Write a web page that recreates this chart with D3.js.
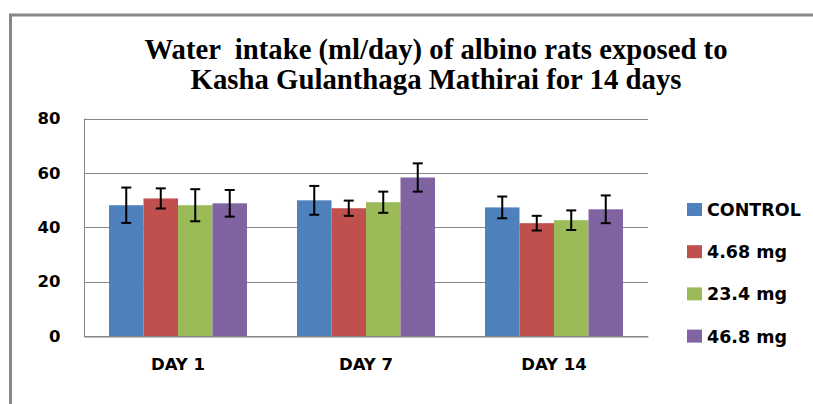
<!DOCTYPE html>
<html>
<head>
<meta charset="utf-8">
<script src="https://cdn.jsdelivr.net/npm/d3@7"></script>
<style>
  body { margin: 0; background: #fff; }
  svg { display: block; }
</style>
</head>
<body>
<div id="chart"></div>
<script>
// data
const days = ["DAY 1", "DAY 7", "DAY 14"];
const groupNames = ["CONTROL", "4.68 mg", "23.4 mg", "46.8 mg"];
const controlMean = [48.1, 49.9, 47.3];
const lowMean = [50.6, 47.0, 41.5];
const midMean = [48.1, 49.2, 42.6];
const highMean = [48.8, 58.3, 46.6];
const controlErr = [6.5, 5.3, 4.0];
const lowErr = [3.7, 2.8, 2.7];
const midErr = [5.9, 3.9, 3.6];
const highErr = [4.9, 5.2, 5.1];
const yTicks = [0, 20, 40, 60, 80];
const titleLines = ["Water  intake (ml/day) of albino rats exposed to",
                    "Kasha Gulanthaga Mathirai for 14 days"];

const colors = ["#4F81BD", "#C0504D", "#9BBB59", "#8064A2"];
const means = [controlMean, lowMean, midMean, highMean];
const errs = [controlErr, lowErr, midErr, highErr];

const width = 813, height = 404;
const plotLeft = 84, plotRight = 648, plotTop = 118.5, plotBottom = 336;
const labelFont = "'DejaVu Sans', sans-serif";

const svg = d3.select("#chart").append("svg")
    .attr("width", width)
    .attr("height", height);

// outer chart border (runs off the right and bottom edges)
svg.append("rect")
    .attr("x", 10.5).attr("y", 15)
    .attr("width", 900).attr("height", 500)
    .attr("fill", "none")
    .attr("stroke", "#888")
    .attr("stroke-width", 3);

// title
const titleY = [59, 89], titleLen = [583, 491];
svg.selectAll(".title")
    .data(titleLines)
    .enter()
    .append("text")
    .attr("class", "title")
    .attr("x", 436)
    .attr("y", (d, i) => titleY[i])
    .attr("text-anchor", "middle")
    .attr("textLength", (d, i) => titleLen[i])
    .attr("lengthAdjust", "spacingAndGlyphs")
    .style("font-family", "'Liberation Serif', 'Times New Roman', serif")
    .style("font-weight", "bold")
    .style("font-size", "29px")
    .style("white-space", "pre")
    .text(d => d);

// scales
const y = d3.scaleLinear().domain([0, 80]).range([plotBottom, plotTop]);
const x0 = d3.scaleBand().domain(days).range([plotLeft, plotRight]);
const x1 = d3.scaleBand().domain(groupNames).range([0, x0.bandwidth()])
    .paddingInner(0).paddingOuter(0.725);

// gridlines
svg.append("g")
    .selectAll("line")
    .data(yTicks)
    .enter()
    .append("line")
    .attr("x1", plotLeft).attr("x2", plotRight)
    .attr("y1", d => Math.round(y(d)) + 0.5)
    .attr("y2", d => Math.round(y(d)) + 0.5)
    .attr("stroke", "#868686")
    .attr("stroke-width", 1);

// y axis
const yAxis = svg.append("g")
    .attr("transform", `translate(${plotLeft + 0.5},0)`)
    .call(d3.axisLeft(y).tickValues(yTicks).tickSize(0).tickPadding(24));
yAxis.select(".domain")
    .attr("stroke", "#868686")
    .attr("d", `M0,${plotTop}V${plotBottom + 0.5}`);
yAxis.selectAll("text")
    .style("font-family", labelFont)
    .style("font-weight", "bold")
    .style("font-size", "16.5px")
    .attr("fill", "#000");

// x axis
const xAxis = svg.append("g")
    .attr("transform", `translate(0,${Math.round(plotBottom) + 0.5})`)
    .call(d3.axisBottom(x0).tickSize(0).tickPadding(22));
xAxis.select(".domain").attr("stroke", "#868686");
xAxis.selectAll("text")
    .style("font-family", labelFont)
    .style("font-weight", "bold")
    .style("font-size", "16.5px")
    .attr("fill", "#000");

// bars
const rows = [];
days.forEach((day, di) => {
    groupNames.forEach((g, gi) => {
        rows.push({day: day, group: g, gi: gi, value: means[gi][di], err: errs[gi][di]});
    });
});

svg.append("g")
    .selectAll("rect")
    .data(rows)
    .enter()
    .append("rect")
    .attr("x", d => x0(d.day) + x1(d.group))
    .attr("y", d => y(d.value))
    .attr("width", x1.bandwidth())
    .attr("height", d => plotBottom - y(d.value))
    .attr("fill", d => colors[d.gi]);

// error bars
const capHalf = 5;
const eb = svg.append("g")
    .selectAll("g")
    .data(rows)
    .enter()
    .append("g")
    .attr("stroke", "#000")
    .attr("stroke-width", 2);

eb.append("line")
    .attr("x1", d => x0(d.day) + x1(d.group) + x1.bandwidth() / 2)
    .attr("x2", d => x0(d.day) + x1(d.group) + x1.bandwidth() / 2)
    .attr("y1", d => y(d.value + d.err))
    .attr("y2", d => y(d.value - d.err));
eb.append("line")
    .attr("x1", d => x0(d.day) + x1(d.group) + x1.bandwidth() / 2 - capHalf)
    .attr("x2", d => x0(d.day) + x1(d.group) + x1.bandwidth() / 2 + capHalf)
    .attr("y1", d => y(d.value + d.err))
    .attr("y2", d => y(d.value + d.err));
eb.append("line")
    .attr("x1", d => x0(d.day) + x1(d.group) + x1.bandwidth() / 2 - capHalf)
    .attr("x2", d => x0(d.day) + x1(d.group) + x1.bandwidth() / 2 + capHalf)
    .attr("y1", d => y(d.value - d.err))
    .attr("y2", d => y(d.value - d.err));

// legend
const legend = svg.append("g")
    .selectAll("g")
    .data(groupNames)
    .enter()
    .append("g")
    .attr("transform", (d, i) => `translate(687,${209.5 + i * 42.2})`);

legend.append("rect")
    .attr("x", 0).attr("y", -6.5)
    .attr("width", 15).attr("height", 13)
    .attr("fill", (d, i) => colors[i]);

legend.append("text")
    .attr("x", 20)
    .attr("y", 6.5)
    .style("font-family", labelFont)
    .style("font-weight", "bold")
    .style("font-size", "17.5px")
    .text(d => d);
</script>
</body>
</html>
